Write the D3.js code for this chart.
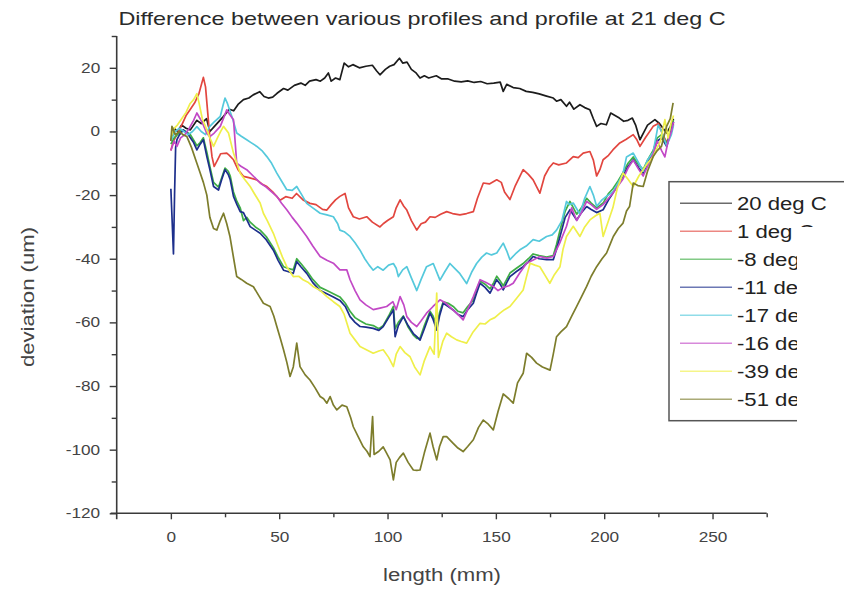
<!DOCTYPE html>
<html>
<head>
<meta charset="utf-8">
<script src="https://cdn.jsdelivr.net/npm/d3@7"></script>
<style>
  html, body { margin: 0; padding: 0; background: #fff; }
  svg { display: block; }
  text { font-family: "Liberation Sans", Arial, sans-serif; }
</style>
</head>
<body>
<svg id="chart" width="844" height="590"></svg>
<script>
// Profile deviation relative to the 21 deg C profile, [length mm, deviation um]
const dev20 = [[0,-3],[1.5,1],[3,0],[5,2],[7,1],[9,0.5],[12,3.5],[14,2.5],[16.5,4],[18,0],[20,1.5],[22,3],[24,4.5],[27,7],[29,6.5],[31,8.5],[33.5,10],[36,10.5],[38,11.5],[41,12.5],[43,11],[45,10.5],[47,10.8],[49,12],[52,13.5],[54,13],[57,14.5],[60,15.2],[62,14.5],[64,15.8],[67,16.3],[69,15.8],[71,16.8],[72.7,18.4],[74,15.8],[76,16.8],[78,16.3],[80,21.5],[82,20.3],[84,21],[87,20],[90,20.5],[93,20.8],[95,19],[96.5,17.8],[99,19.5],[101,20.5],[103,21],[105.5,23],[107,21.5],[109,21.8],[111,19.5],[113,18.5],[115,16.8],[117,17.5],[119,16.8],[122.5,17.5],[125,16.5],[128,16.5],[131,15.8],[134,15.6],[137,15.9],[140,15.4],[143,15.7],[146,15],[149,15.2],[152,15.5],[153.4,12.6],[155,14.8],[158,13.8],[161,13.5],[164,12.6],[167,12.3],[170,11.8],[173,11.2],[176.5,10.5],[178,9.5],[180,10],[182.6,7.9],[184,9.2],[186,7],[188.8,8.4],[191,7.5],[193.4,6.8],[195,4],[196.5,1.6],[198.5,2.5],[201,2.1],[203,5.8],[205,5],[207,4.2],[209,3.2],[211,3.5],[213,4.2],[214.5,2],[216.5,-2.6],[218.5,0],[220,2],[223.4,3.7],[225.5,2.5],[228.8,-0.5],[230.5,1.5],[232,4]];

const dev1 = [[0,-6],[1.2,-3],[2.8,-1],[5,2],[7,5],[9,7],[11,9],[13,12],[15,17],[16,14],[17,6],[18,-2],[19,-8],[20,-11],[21.5,-9],[23,-7],[25.8,-6.8],[27,-7.5],[28.9,-8.9],[31,-12],[33.5,-14.1],[36,-14.5],[39.7,-15.2],[42,-16.5],[44.3,-17.3],[47,-19],[50.4,-21.6],[53,-20.5],[56,-21],[58,-19.5],[61,-21.5],[64.2,-22.6],[67,-23],[70,-24.5],[72,-24.7],[74,-23],[76,-21.5],[78,-20.4],[80.4,-19.5],[82,-24],[84.2,-26.8],[87,-27.5],[90.4,-26.8],[93,-28.5],[96.5,-30],[98,-29],[100,-28],[102.7,-26.8],[104,-24],[105.8,-21.5],[107.5,-23.5],[108.9,-24.7],[111,-28],[113.5,-31],[115.5,-29],[117.5,-28.5],[119.6,-26.8],[122,-27],[124.5,-26],[127.3,-25.2],[130,-25.8],[133.4,-26.2],[136.5,-25.8],[139.6,-25.2],[141.5,-21],[144.2,-16.2],[147,-16.5],[150.4,-15.2],[152.5,-16],[154,-19],[156.5,-21.4],[159,-17],[162.6,-12],[165,-13.5],[167.2,-15.2],[170.3,-19.4],[172.5,-14],[174.5,-11.5],[176.5,-9.9],[179,-10.5],[182.6,-9.9],[185.7,-7.9],[188,-8.2],[190.3,-6.8],[193.4,-6.3],[195,-9],[196.5,-14],[198,-12],[199.5,-8.9],[202,-7.5],[204,-5.8],[207.2,-3.6],[210,-2.5],[213.4,-1],[215,-2.5],[216.5,-4.7],[219,-2],[222.6,1.6],[225,2.5],[227,-1],[229,-3.5],[231,0],[232,2.5]];

const devM8 = [[0,-4],[1.5,-2],[3,-1],[5,0.5],[7,0],[9,-1],[10.4,-2.6],[12,-4.5],[13.5,-3.5],[15,-2],[16.6,-6.5],[18,-11],[19.7,-16],[22,-17.5],[23.5,-14.5],[25,-11.5],[26.5,-12.5],[27.4,-14],[28.9,-19],[30.5,-22],[32,-24],[33.5,-28],[35,-27],[36.6,-28.5],[39,-30],[41.2,-31],[44,-33],[47.3,-36.5],[49.5,-39.5],[52,-42.5],[54,-43],[56.5,-43.5],[58.1,-40],[60,-41.5],[62.7,-43.8],[65.5,-46.5],[68.9,-49],[72,-50],[75,-51],[78,-52],[80.5,-54],[82.7,-56.5],[85,-58.5],[87.3,-59.5],[90,-60.5],[93.4,-61],[96,-62],[98,-61],[100.5,-58],[102.7,-55],[103.5,-62],[105,-60],[107.3,-58],[109.5,-61.5],[111.9,-64],[113.5,-65],[115,-65],[117,-61],[119.6,-56.5],[121,-58],[122.7,-61],[124,-57],[125.7,-53.5],[128,-54],[130.3,-55],[132.5,-56.5],[134.9,-57],[137,-55],[139.6,-53],[141,-50],[142.7,-47],[145,-48],[147.3,-49.5],[149,-47.5],[150.4,-45.5],[152,-47],[153.4,-48.5],[155,-46.5],[156.5,-44.5],[159.5,-43],[162.6,-41.5],[165,-40],[167.2,-38.5],[170,-39],[173.4,-39.5],[176.5,-39],[178,-35.5],[179.6,-31],[182,-25],[184.2,-22],[187.3,-26],[189.5,-24],[191.9,-21],[194,-22.5],[196.5,-24],[199.5,-22.5],[202,-19.5],[204,-18],[206.5,-15.5],[208.6,-13],[211,-10],[213.4,-8],[216,-10.5],[218,-12],[220,-9],[222.6,-6],[224.5,-2],[226.5,-1],[228.8,-4],[230.5,0],[232,3.5]];

const devM11 = [[0,-18],[0.7,-30],[1.2,-38.5],[1.7,-20],[2.2,-5],[2.8,-2.6],[4,-1],[5.8,0.5],[7.5,-0.5],[9,-2],[10.5,-3.5],[12,-5.8],[13.5,-4],[15,-2.6],[16.6,-7.9],[18,-12],[19.7,-17.3],[22,-18.4],[23.5,-15],[25,-12],[26.5,-13.5],[27.4,-15.2],[28.9,-20.4],[30.5,-23],[32,-25.2],[33.5,-25.5],[36.6,-29.9],[39,-31],[41.2,-32],[44,-34],[47.3,-37.3],[49.5,-40.5],[52,-43.6],[54,-44],[56.5,-44.6],[58.1,-40.9],[60,-42.5],[62.7,-44.6],[65.5,-47.5],[68.9,-50],[72,-51],[75,-52],[78,-53.1],[80.5,-55],[82.7,-58.2],[85,-60],[87.3,-61.3],[90,-61.5],[93.4,-61.9],[96,-62.5],[98,-61.3],[100.5,-58.5],[102.7,-56.1],[103.5,-64.5],[105,-61],[107.3,-58.2],[109.5,-61],[111.9,-63.5],[113.5,-64.5],[115,-65.6],[117,-62],[119.6,-57.1],[121,-59],[122.7,-62.4],[124,-58],[125.7,-54],[128,-55],[130.3,-56.1],[132.5,-57.5],[134.9,-58.2],[137,-56],[139.6,-54],[141,-51],[142.7,-47.7],[145,-49],[147.3,-50.8],[149,-48.5],[150.4,-46.6],[152,-48],[153.4,-49.8],[155,-47.5],[156.5,-45.6],[159.5,-44],[162.6,-42.5],[165,-41],[167.2,-39.3],[170,-40],[173.4,-40.3],[176.5,-40.3],[178,-37],[179.6,-33],[182,-27],[184.2,-24.6],[187.3,-27.8],[189.5,-25.5],[191.9,-23.6],[194,-24.5],[196.5,-25.5],[199.5,-24.6],[202,-21.5],[204,-19.4],[206.5,-16.5],[208.6,-14.2],[211,-11],[213.4,-8.9],[216,-11.5],[218,-13.1],[220,-10],[222.6,-6.8],[224.5,-3],[226.5,-2],[228.8,-4.7],[230.5,-1],[232,3]];

const devM17 = [[0,-3],[2,0],[4,1],[6,0],[8,-1],[10,0],[12,1.5],[14,0],[16,-1],[18,1.6],[20,3],[22.8,4.7],[24,8],[25,10.5],[26,9],[27,7],[28.5,4],[30.4,-0.5],[32.5,-1.5],[35,-2.6],[37,-3.5],[39.7,-4.7],[42,-6],[44.3,-7.9],[46.5,-10],[48.9,-13.1],[51,-15.5],[53.5,-18.3],[56,-18.5],[58.1,-17.3],[60.5,-20],[62.7,-22.6],[65.5,-24],[68.9,-25.7],[72,-26.2],[75,-26.8],[77,-29],[78,-31],[80,-31.5],[82.7,-33],[85,-35],[87.3,-37.3],[89.5,-40],[91.5,-42],[93.4,-43.6],[95.5,-42.5],[98,-43.6],[100.5,-42],[102.7,-41.5],[104,-43],[105,-45.6],[107,-43.5],[108.9,-42.5],[111,-46],[113.5,-50],[115.5,-46.5],[118,-42.5],[121.1,-41.5],[124.2,-46.7],[126.5,-44],[128.8,-41.5],[131,-43],[133.4,-44.7],[136.5,-47.8],[139,-44],[141.1,-41.5],[143.5,-39.5],[145.7,-38.2],[148,-38.8],[150.4,-38.2],[153.4,-35.1],[155,-37.5],[156.5,-40.3],[159,-38.5],[161.1,-37.2],[164,-36],[167.2,-34],[170,-34.5],[173.4,-33],[176,-32.5],[178,-31],[180.5,-28],[182.6,-22],[184,-23],[185.7,-22.5],[188.8,-26],[191,-21],[193.4,-17.3],[195,-20],[196.5,-23.5],[199,-21.5],[201,-20.4],[204,-19],[205.7,-17],[208.6,-13.5],[210.3,-8],[213.4,-6.8],[216,-10],[218,-12.5],[220,-9],[222.6,-6.5],[224.9,2],[226.5,0],[228.8,-4.5],[231,-1],[232,2]];

const devM16 = [[0,-6],[1.5,-3],[2.8,-4.7],[4.5,-2],[6.5,-1],[8.5,1],[10.5,3.5],[12,5.8],[13.5,4],[15,2],[16.5,-0.5],[18,-1.6],[20,-0.5],[22.8,1.6],[24.5,4.5],[25.8,6.8],[27,5.5],[28.9,3.7],[30.4,-10],[32.5,-11],[35,-12],[38,-14],[41.2,-16.2],[44,-17.5],[46.5,-19],[48.9,-20.4],[51,-22.5],[53.5,-24.6],[56,-27],[58.1,-28.8],[60.5,-31],[62.7,-33],[65.5,-36],[68.9,-39.3],[72,-40.5],[75,-41.4],[78,-43.5],[81.2,-43.5],[82.7,-46.6],[85,-50],[87.3,-52.9],[90,-54.5],[93.4,-56],[96.5,-55.5],[99.6,-55],[102.5,-53.5],[104,-56],[105.8,-51.9],[107.5,-54.5],[108.9,-58.2],[111,-60],[113.5,-61.3],[115.5,-59.5],[118,-57.1],[121,-55],[124.2,-52.9],[127,-54],[130,-56],[132.5,-57.5],[134.9,-59.2],[137,-56],[139.6,-51.9],[142.7,-46.6],[145.5,-47.5],[148.8,-48.7],[151,-50],[153.5,-49],[156,-48.5],[158,-47.7],[161,-44.5],[164.2,-41.4],[167,-40.5],[170.3,-39.3],[173.5,-39.8],[176.5,-39.3],[179.5,-35],[182.6,-29.8],[185,-24],[187.3,-28],[189.5,-25.5],[191.9,-22],[194,-23],[196.5,-24.5],[199.5,-23],[202,-21],[204,-19.4],[206.5,-17],[208.6,-15],[211,-11.5],[213.4,-9],[216,-12],[218,-14],[220,-11],[222.6,-7],[224.5,-3],[226.5,-6],[228,-8],[229.5,-3],[231,0],[232,3]];

const devM39 = [[0,-2],[1.5,1],[3,2],[5,4],[7,6],[8.9,8.8],[10.5,10],[12,11.9],[13,9],[14.5,4],[16.6,0.5],[18,-2],[19.7,-4.7],[21.5,-2],[23,0],[24.3,1.6],[26.6,-0.5],[28.9,-6.8],[30.5,-10],[32,-13.1],[34,-15],[36.6,-17.3],[38.5,-19.5],[41.2,-22.5],[42.7,-25.7],[44.5,-28],[47.3,-32],[49.5,-36],[51.5,-39.5],[53.5,-42.5],[56.5,-45.6],[59,-45.5],[61.2,-46.7],[63.5,-47.5],[65.8,-48.8],[69,-50],[72,-51.9],[75,-53.5],[78,-55],[80,-57.5],[82.7,-63.4],[85,-65.5],[87.3,-67.6],[90,-68.5],[93.4,-69.7],[96,-69],[98,-68.6],[100.5,-71],[102.7,-73.9],[104,-70],[105.8,-67.6],[108,-69.5],[110.4,-70.8],[112.5,-74],[115,-76.5],[117,-72],[119.6,-67.6],[121.5,-70],[122.7,-50.8],[123.5,-71],[125.5,-66],[127.3,-63.4],[129.5,-64.5],[131.9,-65.5],[134,-66],[136.5,-66.5],[139.5,-63],[142.7,-60.3],[145,-60.5],[147.3,-59.2],[149.5,-58.5],[151.9,-57.1],[154,-56],[156.5,-55],[159.5,-52.5],[162.6,-49.8],[164,-46],[165.8,-41.4],[168,-42],[170.3,-42.5],[172.5,-45],[174.9,-47.7],[177,-45],[179.6,-42.5],[181,-37],[182.6,-33],[185.7,-29.8],[188.8,-33],[191,-30],[193.4,-27.8],[196,-26.5],[198,-25.7],[199.5,-33],[201.5,-29],[204,-24],[206,-18],[208.7,-13.1],[211,-15],[213.4,-17.3],[216,-14],[218,-12],[220,-10],[222.6,-7.9],[224.5,-5],[226,-3],[228,3.7],[229.5,-2],[231,3],[232,5]];

const devM51 = [[0,-3],[0.5,1.6],[2,-1],[4,0],[5.5,-1],[7.4,-1.6],[9.5,-5],[12,-10],[13.5,-13],[15,-16],[16.6,-20],[18,-27],[19.7,-30.5],[21.2,-31],[22.8,-28],[24.3,-25.7],[25.8,-29],[27.3,-33.1],[29,-40],[30.4,-45.6],[32.5,-46.5],[35,-47.7],[38.1,-48.8],[40.5,-51.5],[42.7,-54],[45.8,-55],[47.5,-58],[48.9,-61.3],[50.5,-65],[52,-68.6],[53.5,-72.5],[55,-77],[56.5,-74],[58.1,-66.5],[59.6,-73.9],[62,-76.5],[64.2,-78.1],[66.5,-80.5],[68.9,-83.3],[70.5,-84],[72,-85.4],[73.5,-83.3],[75,-86],[76.6,-87.5],[79,-86],[81.2,-86.5],[83,-90],[84.2,-92.8],[86.5,-96],[88.8,-99.1],[90.5,-100.5],[91.9,-102.2],[93.1,-89.6],[93.8,-101.5],[96,-100.5],[98,-99.1],[99.5,-101],[101.2,-103.2],[102.7,-109.5],[104,-104],[105.5,-102.5],[107.3,-101.1],[109.5,-104],[111.9,-106.4],[113.5,-106.5],[115,-106.4],[117,-101],[119.6,-94.8],[121,-99],[122.7,-103.2],[124,-99],[125.7,-95.9],[127.3,-95.9],[130.3,-98],[132.5,-99.5],[134.9,-100.6],[137,-99],[139.6,-96.9],[142,-93],[144.2,-90.7],[146.5,-92],[148.8,-93.8],[151,-88],[153.4,-82.5],[156,-84],[158,-85.4],[160,-79],[162.6,-76],[164.2,-69.7],[166.5,-71],[168.8,-72.8],[171.5,-74],[175,-75],[176.5,-70],[178,-64.5],[180,-63],[182.6,-61.3],[185,-58],[187.3,-55],[189.5,-52],[191.9,-48.7],[194,-45.5],[196.5,-42.5],[199,-40],[201.1,-38.2],[203,-35],[204.2,-33],[206.5,-30.5],[208.7,-28.8],[210.3,-25],[211.7,-23.6],[213.4,-16.2],[215.5,-17],[218,-17.3],[220,-12.5],[222.6,-7.9],[224.5,-6],[226.4,-4.7],[228.8,1.6],[230.5,4],[231.8,9]];

const seriesNames  = ["20 deg C", "1 deg C", "-8 deg C", "-11 deg C", "-17 deg C", "-16 deg C", "-39 deg C", "-51 deg C"];
const seriesData   = [dev20, dev1, devM8, devM11, devM17, devM16, devM39, devM51];
const seriesColors = ["#1c1c1c", "#e2463f", "#3fae45", "#1d2f8c", "#55c9dc", "#c249c6", "#efef4a", "#7d7d2c"];

const xTicks = [0, 50, 100, 150, 200, 250];
const xMinor = [25, 75, 125, 175, 225, 275];
const yTicks = [20, 0, -20, -40, -60, -80, -100, -120];
const yMinor = [30, 10, -10, -30, -50, -70, -90, -110];

const titleText = "Difference between various profiles and profile at 21 deg C";
const xTitle = "length (mm)";
const yTitle = "deviation (um)";

// Lettering in this figure runs wide; stretch text along its reading direction.
const SX = 1.23;

const svg = d3.select("#chart");
const plot = { left: 116.7, right: 766.7, top: 36, bottom: 513.3 };

const x = d3.scaleLinear().domain([-25, 275]).range([plot.left, plot.right]);
const y = d3.scaleLinear().domain([-120, 30]).range([plot.bottom, plot.top]);

const axisColor = "#3a3a3a";
const labelColor = "#444";
const fmt = d => String(d);   // plain hyphen-minus on negative labels

// Series lines
const line = d3.line().x(d => x(d[0])).y(d => y(d[1]));
const lines = svg.append("g").attr("class", "lines");
seriesData.forEach((data, i) => {
  lines.append("path")
    .datum(data)
    .attr("d", line)
    .attr("fill", "none")
    .attr("stroke", seriesColors[i])
    .attr("stroke-width", 1.7)
    .attr("stroke-linejoin", "round");
});

// X axis
const xAxisG = svg.append("g").attr("transform", `translate(0,${plot.bottom})`);
xAxisG.call(d3.axisBottom(x).tickValues(xTicks).tickFormat(fmt).tickSize(6).tickPadding(13).tickSizeOuter(0));
xAxisG.append("g").call(d3.axisBottom(x).tickValues(xMinor).tickSize(4).tickFormat("").tickSizeOuter(0))
  .select(".domain").remove();
xAxisG.selectAll(".domain").attr("stroke", axisColor).attr("stroke-width", 1.6)
  .attr("d", `M${plot.left - 6},0H${plot.right}`);
xAxisG.selectAll(".tick line").attr("stroke", axisColor).attr("stroke-width", 1.4);
xAxisG.selectAll(".tick text")
  .attr("fill", labelColor).attr("font-size", 14)
  .attr("font-family", "Liberation Sans, Arial, sans-serif")
  .attr("transform", `scale(${SX},1)`);

// Y axis
const yAxisG = svg.append("g").attr("transform", `translate(${plot.left},0)`);
yAxisG.call(d3.axisLeft(y).tickValues(yTicks).tickFormat(fmt).tickSize(7).tickPadding(0).tickSizeOuter(0));
yAxisG.append("g").call(d3.axisLeft(y).tickValues(yMinor).tickSize(5).tickFormat("").tickSizeOuter(0))
  .select(".domain").remove();
yAxisG.selectAll(".domain").attr("stroke", axisColor).attr("stroke-width", 1.6)
  .attr("d", `M0,${plot.top}V${plot.bottom + 6}`);
yAxisG.selectAll(".tick line").attr("stroke", axisColor).attr("stroke-width", 1.4);
yAxisG.selectAll(".tick text")
  .attr("fill", labelColor).attr("font-size", 14)
  .attr("font-family", "Liberation Sans, Arial, sans-serif")
  .attr("x", -16.5 / SX)
  .attr("transform", `scale(${SX},1)`);

function stretchedText(txt, cx, cy, size, fill) {
  return svg.append("text")
    .attr("transform", `translate(${cx},${cy}) scale(${SX},1)`)
    .attr("text-anchor", "middle")
    .attr("font-size", size)
    .attr("fill", fill || labelColor)
    .text(txt);
}

// Titles
stretchedText(titleText, 422, 25, 19, "#2a2a2a");
stretchedText(xTitle, 442, 581, 18);
svg.append("text")
  .attr("transform", `translate(34,297) rotate(-90) scale(${SX},1)`)
  .attr("text-anchor", "middle")
  .attr("font-size", 18)
  .attr("fill", labelColor)
  .text(yTitle);

// Legend
const legend = svg.append("g");
legend.append("rect")
  .attr("x", 669).attr("y", 181.7).attr("width", 200).attr("height", 239)
  .attr("fill", "#fff").attr("stroke", "#555").attr("stroke-width", 1.5);
seriesNames.forEach((name, i) => {
  const ly = 203.3 + i * 28.0;
  legend.append("line")
    .attr("x1", 680).attr("x2", 732).attr("y1", ly).attr("y2", ly)
    .attr("stroke", seriesColors[i]).attr("stroke-width", 1.6)
    .attr("stroke-opacity", 0.65);
  legend.append("text")
    .attr("transform", `translate(737,${ly + 6.5}) scale(${SX},1)`)
    .attr("font-size", 18)
    .attr("fill", "#222")
    .text(name);
});
// The right side of the legend is hidden behind a blank panel
svg.append("rect")
  .attr("x", 797).attr("y", 227).attr("width", 60).attr("height", 200)
  .attr("fill", "#fff");
</script>
</body>
</html>
